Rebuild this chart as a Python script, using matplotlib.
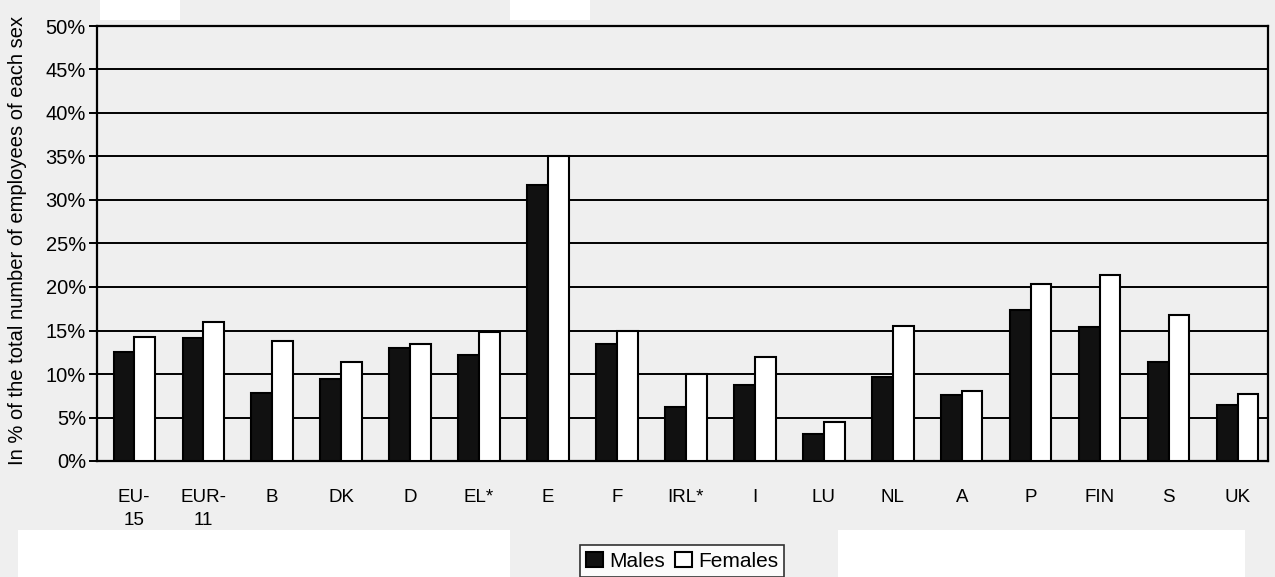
import matplotlib
matplotlib.use("Agg")
import matplotlib.pyplot as plt
import numpy as np
from matplotlib.patches import Rectangle

categories = ["EU-\n15", "EUR-\n11", "B", "DK", "D", "EL*", "E", "F", "IRL*", "I",
              "LU", "NL", "A", "P", "FIN", "S", "UK"]
males = [12.5, 14.1, 7.8, 9.4, 13.0, 12.2, 31.7, 13.5, 6.2, 8.7, 3.1, 9.6, 7.6, 17.3, 15.4, 11.4, 6.4]
females = [14.3, 16.0, 13.8, 11.4, 13.5, 14.8, 35.0, 14.9, 10.0, 11.9, 4.5, 15.5, 8.0, 20.4, 21.4, 16.8, 7.7]
yticks = [0, 5, 10, 15, 20, 25, 30, 35, 40, 45, 50]
ylabel = "In % of the total number of employees of each sex"

plt.rcParams['font.family'] = ['Liberation Sans', 'DejaVu Sans']
bg = "#efefef"
fig = plt.figure(figsize=(12.75, 5.77), dpi=100, facecolor=bg)
# scan artifacts (white patches)
for (x0, y0, w, h) in [(18, 0, 492, 47), (838, 0, 407, 47), (100, 557, 80, 20), (510, 557, 80, 20)]:
    fig.patches.append(Rectangle((x0 / 1275, y0 / 577), w / 1275, h / 577,
                                 transform=fig.transFigure, facecolor="white",
                                 edgecolor="none", zorder=0))

ax = fig.add_axes([97 / 1275, 1 - 461 / 577, (1268 - 97) / 1275, (461 - 26) / 577])
ax.set_facecolor(bg)
x = np.arange(len(categories))
w = 0.3
ax.bar(x - 0.15, males, w, color="#111111", edgecolor="black", linewidth=1.5, label="Males", zorder=3)
ax.bar(x + 0.15, females, w, color="white", edgecolor="black", linewidth=1.5, label="Females", zorder=3)
ax.set_xlim(-0.54, len(categories) - 0.56)
ax.set_ylim(0, 50)
ax.set_yticks(yticks)
ax.set_yticklabels([f"{v}%" for v in yticks], fontsize=14.5)
ax.yaxis.grid(True, color="black", linewidth=1.4, zorder=1)
ax.set_axisbelow(True)
ax.set_xticks(x)
ax.set_xticklabels(categories, fontsize=13.5, linespacing=1.45)
ax.tick_params(axis="x", length=0, pad=20)
ax.tick_params(axis="y", length=6, width=1.4, pad=2)
for s in ax.spines.values():
    s.set_linewidth(1.6)
    s.set_color("black")
ax.set_ylabel(ylabel, fontsize=14.5)
ax.yaxis.set_label_coords(-70 / 1171, 0.506)

leg = fig.legend(loc="lower center", bbox_to_anchor=(682 / 1275, 0.0), ncol=2, fontsize=15,
                 frameon=True, fancybox=False, edgecolor="black", facecolor="white",
                 handlelength=0.8, handleheight=0.8, handletextpad=0.3, columnspacing=0.5,
                 borderpad=0.3, borderaxespad=0)
leg.get_frame().set_linewidth(1.2)
fig.savefig("out.png", dpi=100, facecolor=bg)
